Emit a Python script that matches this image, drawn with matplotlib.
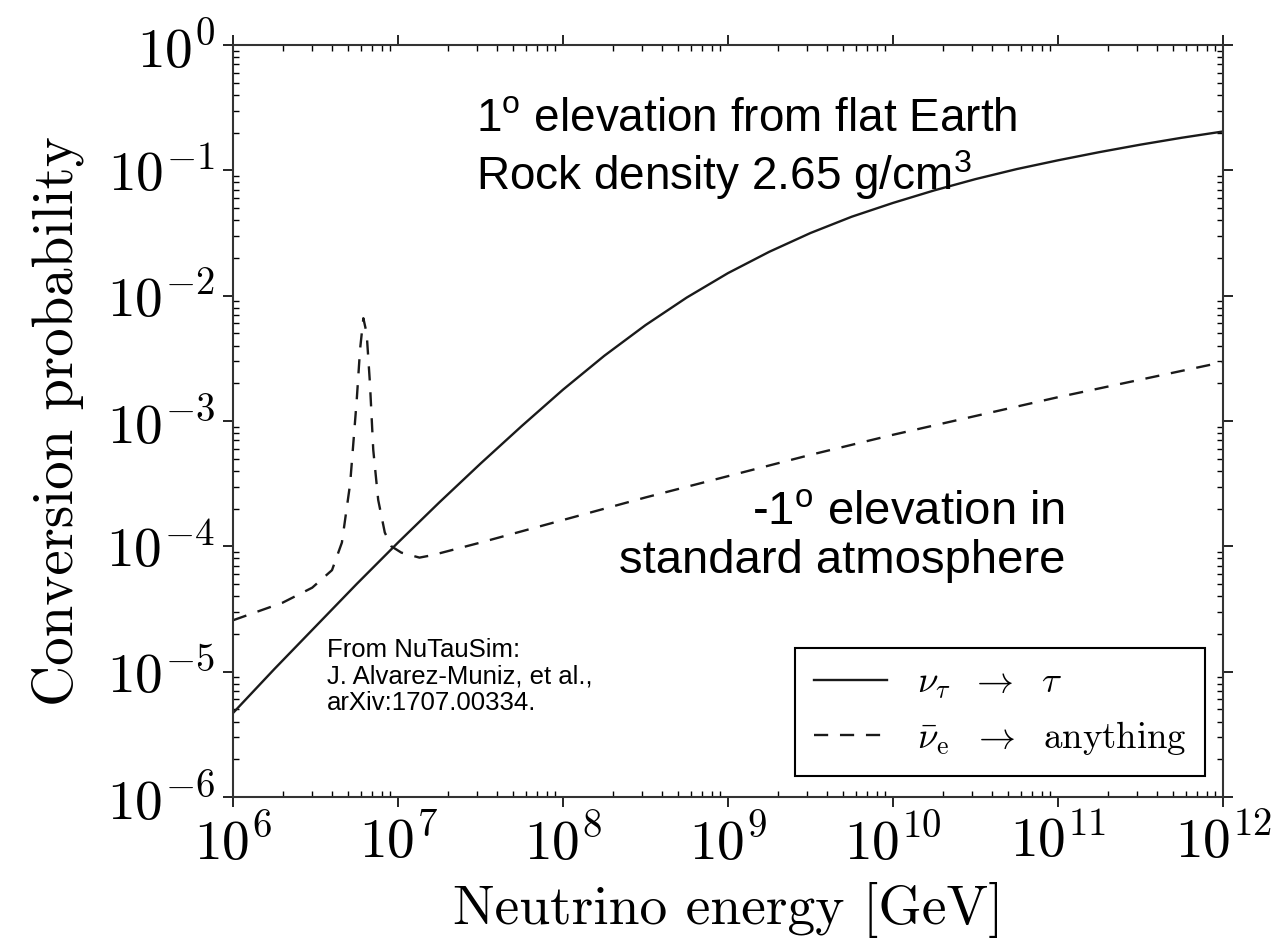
import numpy as np
import matplotlib
matplotlib.use("Agg")
import matplotlib.pyplot as plt
from matplotlib.ticker import FuncFormatter, LogLocator

# values (log10 of energy in GeV, log10 of probability)
tau_log_energy = [6.0, 6.25, 6.5, 6.75, 7.0, 7.25, 7.5, 7.75, 8.0, 8.25, 8.5, 8.75,
                  9.0, 9.25, 9.5, 9.75, 10.0, 10.25, 10.5, 10.75, 11.0, 11.25, 11.5, 11.75, 12.0]
tau_log_prob = [-5.33, -4.98, -4.64, -4.30, -3.97, -3.65, -3.34, -3.04, -2.75, -2.48, -2.235, -2.015,
                -1.82, -1.65, -1.50, -1.37, -1.26, -1.16, -1.07, -0.99, -0.92, -0.855, -0.795, -0.74, -0.69]

nue_log_energy = [6.0, 6.30, 6.48, 6.60, 6.66, 6.71, 6.75, 6.77, 6.79, 6.81, 6.83, 6.85,
                  6.88, 6.92, 6.96, 7.02, 7.13, 7.21, 7.5, 8.0, 8.5, 9.0, 9.5, 10.0,
                  10.5, 11.0, 11.5, 12.0]
nue_log_prob = [-4.59, -4.45, -4.33, -4.19, -3.97, -3.50, -2.83, -2.43, -2.18, -2.30, -2.70, -3.23,
                -3.63, -3.89, -4.00, -4.05, -4.09, -4.07, -3.97, -3.79, -3.61, -3.44, -3.27, -3.11,
                -2.96, -2.81, -2.67, -2.53]

legend_labels = [r"$\nu_\tau\ \ \rightarrow\ \ \tau$",
                 r"$\bar{\nu}_\mathrm{e}\ \ \rightarrow\ \ \mathrm{anything}$"]

plt.rcParams["font.family"] = "serif"
plt.rcParams["font.serif"] = ["cmr10"]
plt.rcParams["mathtext.fontset"] = "cm"
plt.rcParams["mathtext.rm"] = "Liberation Sans"
plt.rcParams["axes.formatter.use_mathtext"] = True

W, H = 1283, 951
fig = plt.figure(figsize=(W / 100, H / 100), dpi=100)
ax = fig.add_axes([233 / W, 1 - 797 / H, (1223 - 233) / W, (797 - 45) / H])

line_col = "#1a1a1a"
ax.plot(10.0 ** np.array(tau_log_energy), 10.0 ** np.array(tau_log_prob),
        color=line_col, lw=1.7, label=legend_labels[0])
ax.plot(10.0 ** np.array(nue_log_energy), 10.0 ** np.array(nue_log_prob),
        color=line_col, lw=1.7, dashes=(6, 5), label=legend_labels[1])

ax.set_xscale("log")
ax.set_yscale("log")
ax.set_xlim(1e6, 1e12)
ax.set_ylim(1e-6, 1e0)

fmt = FuncFormatter(lambda v, _: r"$10^{%d}$" % round(np.log10(v)))
ax.xaxis.set_major_formatter(fmt)
ax.yaxis.set_major_formatter(fmt)
ax.xaxis.set_major_locator(LogLocator(base=10, numticks=10))
ax.yaxis.set_major_locator(LogLocator(base=10, numticks=10))
ax.xaxis.set_minor_locator(LogLocator(base=10, subs=np.arange(2, 10), numticks=20))
ax.yaxis.set_minor_locator(LogLocator(base=10, subs=np.arange(2, 10), numticks=20))
ax.tick_params(which="major", direction="out", length=7, width=1.2,
               top=True, right=True, labelsize=40, pad=6)
ax.tick_params(which="minor", direction="in", length=4, width=1.0,
               top=True, right=True)
for s in ax.spines.values():
    s.set_linewidth(1.5)
    s.set_color("#333333")

ax.set_xlabel("Neutrino energy [GeV]", fontsize=40, labelpad=8)
ax.set_ylabel("Conversion probability", fontsize=41, labelpad=16)

# annotation text in a sans font (positions in figure pixels, last-line baseline)
ax.text(476, H - 190, "1$^\\mathrm{o}$ elevation from flat Earth\nRock density 2.65 g/cm$^\\mathrm{3}$",
        transform=None, fontsize=33, family="Liberation Sans", math_fontfamily="custom",
        ha="left", va="baseline", linespacing=1.17)
ax.text(1065, H - 573, "-1$^\\mathrm{o}$ elevation in\nstandard atmosphere",
        transform=None, fontsize=34, family="Liberation Sans", math_fontfamily="custom",
        ha="right", va="baseline", multialignment="right", linespacing=1.12)
ax.text(327, H - 710, "From NuTauSim:\nJ. Alvarez-Muniz, et al.,\narXiv:1707.00334.",
        transform=None, fontsize=18.5, family="Liberation Sans",
        ha="left", va="baseline", linespacing=1.12)

leg = ax.legend(loc="upper right", bbox_to_anchor=(1205 / W, 1 - 648 / H),
                bbox_transform=fig.transFigure, fontsize=26.5, frameon=True,
                fancybox=False, edgecolor="black", framealpha=1,
                handlelength=2.0, handletextpad=0.8, borderpad=0.5,
                borderaxespad=0)
leg.get_frame().set_linewidth(1.5)

fig.savefig("out.png", dpi=100)
